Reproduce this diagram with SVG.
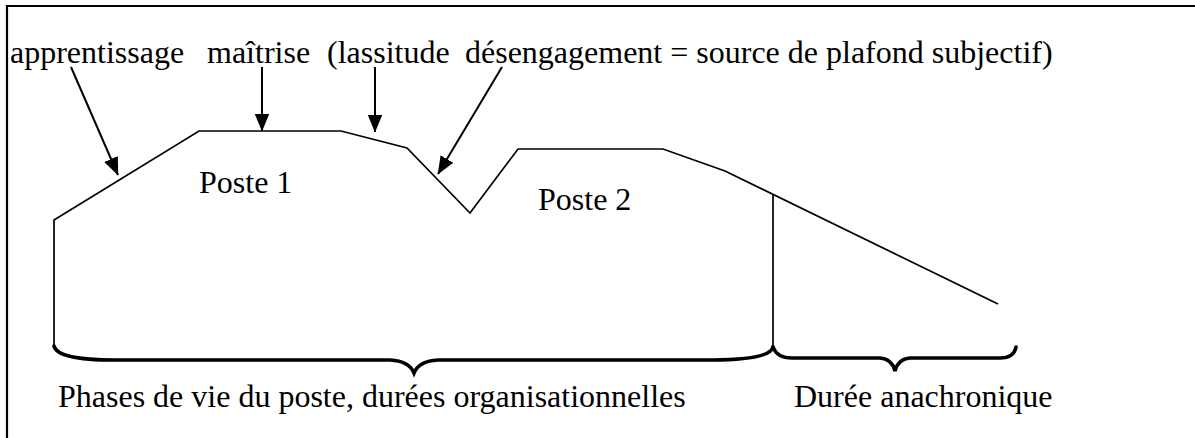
<svg xmlns="http://www.w3.org/2000/svg" width="1195" height="438" viewBox="0 0 1195 438">
<style>
.t{font-family:"Liberation Serif","Times New Roman",serif;font-size:32px;fill:#000}
.ln{fill:none;stroke:#000;stroke-width:1.7;stroke-linejoin:miter}
.ar{fill:none;stroke:#000;stroke-width:2}
.br{fill:none;stroke:#000;stroke-width:3.6;stroke-linecap:round}
</style>
<defs>
<marker id="ah" markerUnits="userSpaceOnUse" markerWidth="18" markerHeight="16" viewBox="0 0 17 14" refX="16.5" refY="7" orient="auto">
<path d="M0,0 L17,7 L0,14 Z" fill="#000"/>
</marker>
</defs>
<rect width="1195" height="438" fill="#fff"/>
<g id="frame">
<path d="M7,440 L7,6 L1197,6" fill="none" stroke="#000" stroke-width="2.2"/>
</g>
<g id="curve">
<path class="ln" d="M54,345 L54,220 L199,131 L341,131 L407,148 L470,213 L518,149 L663,149 L725,171 L998,304"/>
<path class="ln" d="M773,195 L773,348"/>
</g>
<g id="braces">
<path class="br" d="M54,346 Q57,360 115,360 L390,360 Q409,361 414,373 Q419,361 438,360 L712,360 Q770,360 773,347"/>
<path class="br" d="M773,347 Q777,358 792,358 L880,358 Q892,359 895,371 Q898,359 910,358 L1000,358 Q1014,358 1016,347"/>
</g>
<g id="connectors">
<line class="ar" x1="71" y1="67" x2="118" y2="175" marker-end="url(#ah)"/>
<line class="ar" x1="262" y1="67" x2="262" y2="131" marker-end="url(#ah)"/>
<line class="ar" x1="375" y1="67" x2="375" y2="132" marker-end="url(#ah)"/>
<line class="ar" x1="502" y1="67" x2="438" y2="174" marker-end="url(#ah)"/>
</g>
<g id="label-apprentissage"><text class="t" x="10" y="63">apprentissage</text></g>
<g id="label-maitrise"><text class="t" x="207" y="63">maîtrise</text></g>
<g id="label-lassitude"><text class="t" x="327" y="63">(lassitude</text></g>
<g id="label-desengagement"><text class="t" x="465" y="63">désengagement = source de plafond subjectif)</text></g>
<g id="label-poste1"><text class="t" x="199" y="193">Poste 1</text></g>
<g id="label-poste2"><text class="t" x="538" y="210">Poste 2</text></g>
<g id="label-phases"><text class="t" x="58" y="407">Phases de vie du poste, durées organisationnelles</text></g>
<g id="label-duree"><text class="t" x="794" y="407">Durée anachronique</text></g>
</svg>
